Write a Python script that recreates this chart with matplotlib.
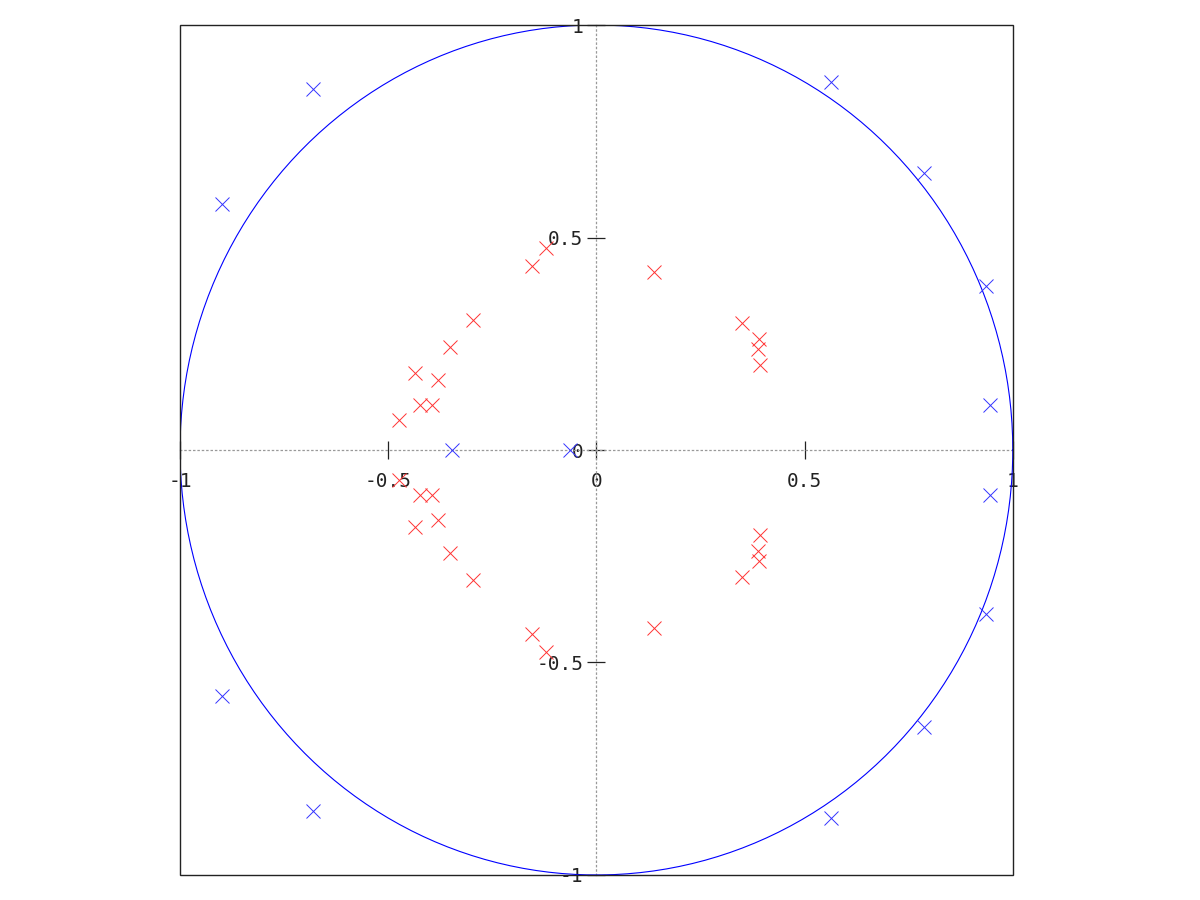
import numpy as np
import matplotlib
matplotlib.use('Agg')
import matplotlib.pyplot as plt
from matplotlib.patches import Rectangle

# poles (red) and zeros (blue)
blue_re = [-0.681, -0.681, -0.899, -0.899, 0.563, 0.563, 0.786, 0.786,
           0.935, 0.935, 0.945, 0.945, -0.347, -0.064]
blue_im = [0.849, -0.849, 0.580, -0.580, 0.866, -0.866, 0.652, -0.652,
           0.387, -0.387, 0.107, -0.107, 0.0, 0.0]

red_re = [-0.121, -0.155, 0.138, -0.297, -0.352, 0.349, 0.390, 0.388, 0.392,
          -0.436, -0.381, -0.424, -0.395, -0.474]
red_im = [0.475, 0.433, 0.419, 0.306, 0.242, 0.299, 0.261, 0.238, 0.200,
          0.181, 0.165, 0.106, 0.106, 0.071]
# conjugate halves
red_re = red_re + red_re
red_im = red_im + [-v for v in red_im]

ticks = [-1, -0.5, 0, 0.5, 1]
tick_labels = ['-1', '-0.5', '0', '0.5', '1']

plt.rcParams['font.family'] = 'DejaVu Sans Mono'

fig = plt.figure(figsize=(12, 9), dpi=100)
ax = fig.add_axes([0.15, 0.0278, 0.694, 0.9444])

t = np.linspace(0, 2*np.pi, 400)
ax.plot(np.cos(t), np.sin(t), color='#0000ff', lw=0.8, zorder=3)
ax.plot(blue_re, blue_im, 'x', color='#3333ff', ms=9.5, mew=0.7, zorder=4)
ax.plot(red_re, red_im, 'x', color='#ff3333', ms=9.5, mew=0.7, zorder=4)

ax.set_xlim(-1, 1); ax.set_ylim(-1, 1)

for s in ['left', 'bottom']:
    ax.spines[s].set_position('zero')
    ax.spines[s].set_linestyle((0, (1, 2.5)))
    ax.spines[s].set_color('#999999')
    ax.spines[s].set_linewidth(0.9)
for s in ['top', 'right']:
    ax.spines[s].set_visible(False)
ax.add_patch(Rectangle((0, 0), 1, 1, transform=ax.transAxes, fill=False,
                       lw=1.0, edgecolor='#222222', clip_on=False, zorder=5))

ax.set_xticks(ticks); ax.set_xticklabels(tick_labels)
ax.set_yticks(ticks); ax.set_yticklabels(tick_labels)
ax.tick_params(axis='both', direction='inout', length=13, width=0.9,
               color='#222222', labelcolor='#222222', labelsize=14)
ax.tick_params(axis='x', pad=9)
ax.tick_params(axis='y', pad=3)

fig.savefig('out.png', dpi=100)
